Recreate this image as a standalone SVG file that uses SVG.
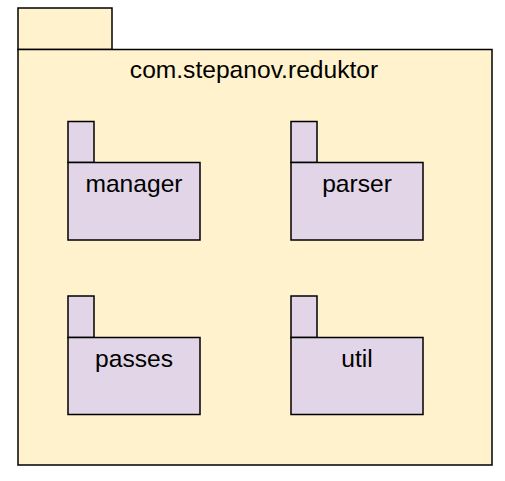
<svg xmlns="http://www.w3.org/2000/svg" width="505" height="481" viewBox="0 0 505 481">
<style>
.outer{fill:#fff2cc;stroke:#000;stroke-width:1.5}
.pkg{fill:#e1d5e7;stroke:#000;stroke-width:1.5}
text{font-family:"Liberation Sans",Arial,sans-serif;font-size:24.6px;fill:#000;text-anchor:middle}
</style>
<rect width="505" height="481" fill="#fff"/>
<g id="reduktor">
<rect class="outer" x="18" y="8" width="94" height="41.5"/>
<rect class="outer" x="18" y="49.5" width="474" height="415.5"/>
<text x="254" y="78">com.stepanov.reduktor</text>
</g>
<g id="manager">
<rect class="pkg" x="68" y="121.5" width="26" height="41"/>
<rect class="pkg" x="68" y="162.5" width="132" height="77.5"/>
<text x="134" y="191.5">manager</text>
</g>
<g id="parser">
<rect class="pkg" x="291" y="121.5" width="26" height="41"/>
<rect class="pkg" x="291" y="162.5" width="132" height="77.5"/>
<text x="357" y="191.5">parser</text>
</g>
<g id="passes">
<rect class="pkg" x="68" y="296" width="26" height="41.5"/>
<rect class="pkg" x="68" y="337.5" width="132" height="77"/>
<text x="134" y="366.5">passes</text>
</g>
<g id="util">
<rect class="pkg" x="291" y="296" width="26" height="41.5"/>
<rect class="pkg" x="291" y="337.5" width="132" height="77"/>
<text x="357" y="366.5">util</text>
</g>
<g id="connectors"/>
</svg>
